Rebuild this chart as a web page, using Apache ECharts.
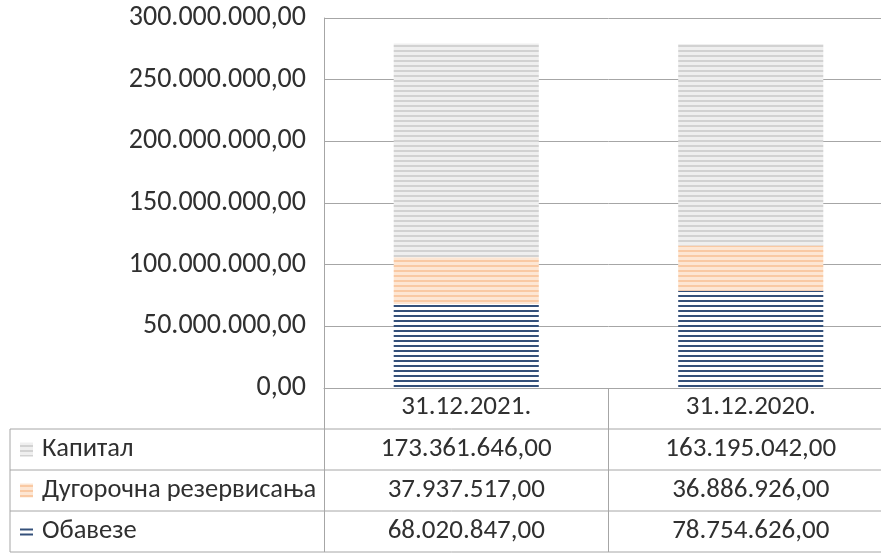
<!DOCTYPE html>
<html>
<head>
<meta charset="utf-8">
<script src="https://cdn.jsdelivr.net/npm/echarts@6/dist/echarts.min.js"></script>
<style>
  html, body { margin: 0; padding: 0; background: #fff; overflow: hidden; }
  #chart { width: 893px; height: 556px; }
</style>
</head>
<body>
<div id="chart"></div>
<script>
// data
const categories = ['31.12.2021.', '31.12.2020.']
const seriesNames = ['Обавезе', 'Дугорочна резервисања', 'Капитал']
const obavezeValues = [68020847, 78754626]
const rezervisanjaValues = [37937517, 36886926]
const kapitalValues = [173361646, 163195042]
const yTicks = [0, 50000000, 100000000, 150000000, 200000000, 250000000, 300000000]

const font = 'Carlito, "Liberation Sans", Arial, sans-serif'
const textColor = '#303030'
const lineColor = '#a6a6a6'

// horizontal stripe fill
function stripes(bg, line, lineH, period) {
  const c = document.createElement('canvas')
  c.width = 8
  c.height = period
  const ctx = c.getContext('2d')
  ctx.fillStyle = bg
  ctx.fillRect(0, 0, 8, period)
  ctx.fillStyle = line
  ctx.fillRect(0, 0, 8, lineH)
  return { image: c, repeat: 'repeat' }
}

const fills = [
  stripes('#ffffff', '#34507a', 2, 5),
  stripes('#fde6d3', '#f9c9a3', 2, 5),
  stripes('#efefef', '#d2d2d2', 2, 5)
]

function fmt(v) {
  const s = String(Math.round(v)).replace(/\B(?=(\d{3})+(?!\d))/g, '.')
  return s + ',00'
}

// chart is a bit wider than the window: the table's right edge is cut off
const chart = echarts.init(document.getElementById('chart'))

const gridLeft = 324, gridTop = 18, gridH = 370
const rowH = 41
const gridEnd = 893

chart.setOption({
  animation: false,
  grid: { left: gridLeft, top: gridTop, right: 0, height: gridH },
  xAxis: {
    type: 'category',
    data: categories,
    axisLine: { lineStyle: { color: lineColor, width: 1 } },
    axisTick: { show: true, length: rowH * 4, lineStyle: { color: lineColor } },
    axisLabel: {
      margin: 19, verticalAlign: 'middle',
      fontFamily: font, fontSize: 27, color: textColor
    }
  },
  yAxis: {
    type: 'value',
    min: yTicks[0],
    max: yTicks[yTicks.length - 1],
    interval: yTicks[1] - yTicks[0],
    axisLine: { show: true, lineStyle: { color: lineColor } },
    splitLine: { lineStyle: { color: lineColor } },
    axisLabel: {
      margin: 18, fontFamily: font, fontSize: 28, color: textColor,
      formatter: v => fmt(v)
    }
  },
  series: [
    { name: seriesNames[0], type: 'bar', stack: 'a', barWidth: '51%', data: obavezeValues, itemStyle: { color: fills[0] } },
    { name: seriesNames[1], type: 'bar', stack: 'a', data: rezervisanjaValues, itemStyle: { color: fills[1] } },
    { name: seriesNames[2], type: 'bar', stack: 'a', data: kapitalValues, itemStyle: { color: fills[2] } }
  ]
})

// data table under the axis
const base = gridTop + gridH
const tableLeft = 10
const rows = [
  { name: seriesNames[2], values: kapitalValues, fill: fills[2] },
  { name: seriesNames[1], values: rezervisanjaValues, fill: fills[1] },
  { name: seriesNames[0], values: obavezeValues, fill: fills[0] }
]
const graphics = []
for (let i = 1; i <= 4; i++) {
  const y = base + rowH * i
  graphics.push({ type: 'line', shape: { x1: tableLeft, y1: y, x2: gridEnd, y2: y }, style: { stroke: lineColor, lineWidth: 1 } })
}
graphics.push({ type: 'line', shape: { x1: tableLeft, y1: base + rowH, x2: tableLeft, y2: base + rowH * 4 }, style: { stroke: lineColor, lineWidth: 1 } })
rows.forEach((r, i) => {
  const cy = base + rowH * (i + 1) + rowH / 2
  if (i === 2) {
    graphics.push({ type: 'rect', shape: { x: 20, y: cy - 3, width: 13, height: 2 }, style: { fill: '#34507a' } })
    graphics.push({ type: 'rect', shape: { x: 20, y: cy + 2, width: 13, height: 2 }, style: { fill: '#34507a' } })
  } else {
    graphics.push({ type: 'rect', shape: { x: 20, y: cy - 7, width: 13, height: 14 }, style: { fill: r.fill } })
  }
  graphics.push({ type: 'text', x: 42, y: cy, style: { text: r.name, font: '26.5px ' + font, fill: textColor, verticalAlign: 'middle' } })
  r.values.forEach((v, j) => {
    const cx = chart.convertToPixel({ xAxisIndex: 0 }, categories[j])
    graphics.push({ type: 'text', x: cx, y: cy, style: { text: fmt(v), font: '27px ' + font, fill: textColor, align: 'center', verticalAlign: 'middle' } })
  })
})
chart.setOption({ graphic: graphics })
</script>
</body>
</html>
